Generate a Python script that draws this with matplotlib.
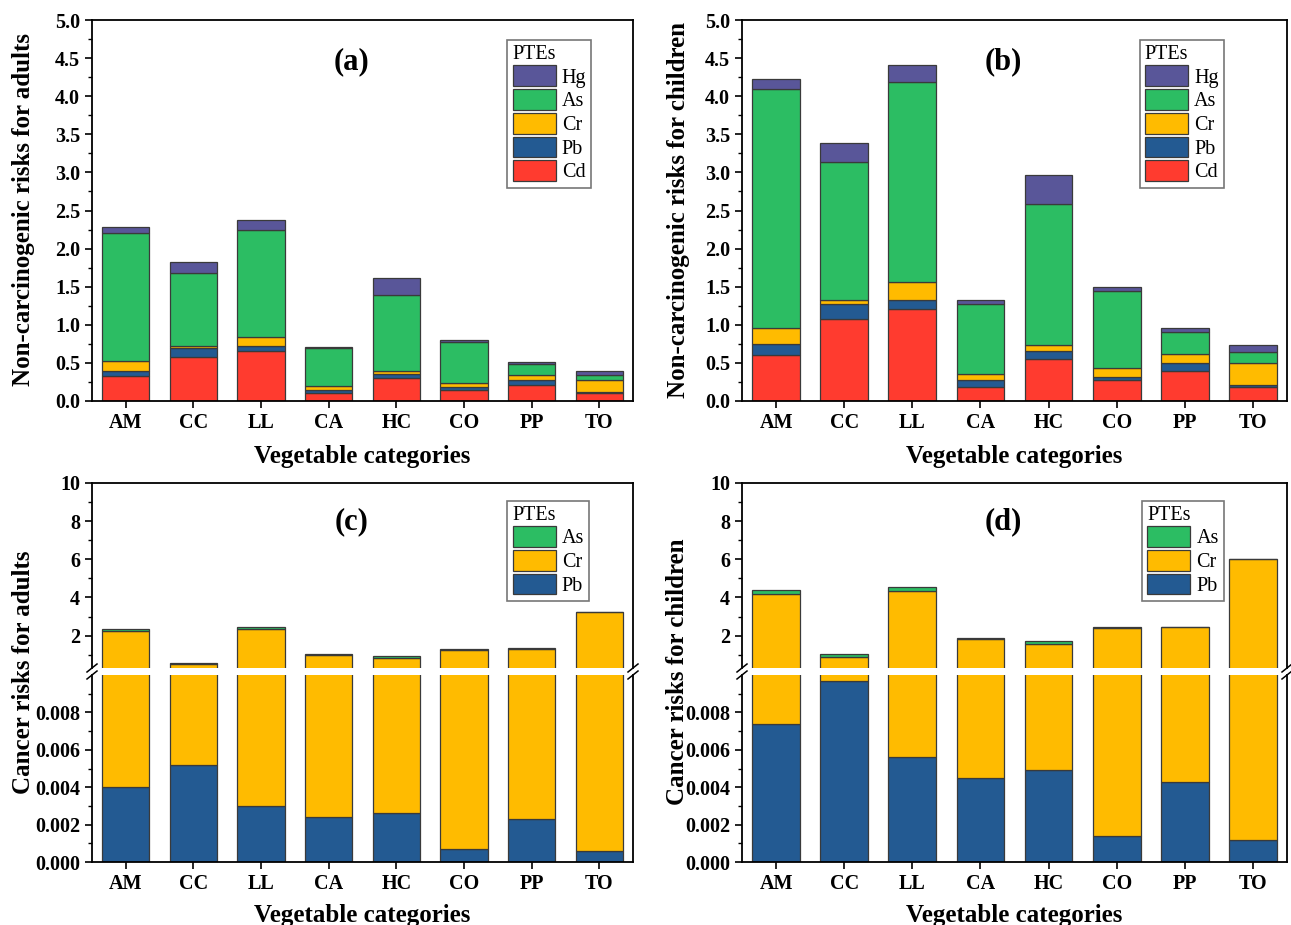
import matplotlib
matplotlib.use("Agg")
import matplotlib.pyplot as plt
from matplotlib.ticker import MultipleLocator, FormatStrFormatter, FixedLocator
from matplotlib.patches import Patch
from matplotlib.lines import Line2D
import numpy as np

# ---------------- data ----------------
categories = ["AM", "CC", "LL", "CA", "HC", "CO", "PP", "TO"]

# Non-carcinogenic risks (hazard quotients) per element, adults
adult_nc_cd = [0.33, 0.58, 0.65, 0.10, 0.30, 0.15, 0.21, 0.10]
adult_nc_pb = [0.07, 0.12, 0.07, 0.05, 0.05, 0.03, 0.06, 0.02]
adult_nc_cr = [0.12, 0.02, 0.12, 0.05, 0.04, 0.06, 0.07, 0.16]
adult_nc_as = [1.69, 0.96, 1.41, 0.49, 1.00, 0.54, 0.15, 0.06]
adult_nc_hg = [0.07, 0.14, 0.12, 0.02, 0.22, 0.02, 0.02, 0.06]

# Non-carcinogenic risks per element, children
child_nc_cd = [0.60, 1.07, 1.21, 0.18, 0.55, 0.28, 0.40, 0.18]
child_nc_pb = [0.15, 0.20, 0.12, 0.10, 0.10, 0.03, 0.10, 0.03]
child_nc_cr = [0.21, 0.05, 0.23, 0.08, 0.08, 0.12, 0.12, 0.29]
child_nc_as = [3.14, 1.82, 2.63, 0.91, 1.85, 1.02, 0.28, 0.14]
child_nc_hg = [0.12, 0.25, 0.22, 0.05, 0.39, 0.04, 0.06, 0.10]

# Cancer risks per element, adults
adult_cr_pb = [0.0040, 0.0052, 0.0030, 0.0024, 0.0026, 0.0007, 0.0023, 0.0006]
adult_cr_cr = [2.21, 0.49, 2.35, 0.97, 0.83, 1.25, 1.30, 3.22]
adult_cr_as = [0.14, 0.07, 0.11, 0.04, 0.10, 0.06, 0.03, 0.01]

# Cancer risks per element, children
child_cr_pb = [0.0074, 0.0097, 0.0056, 0.0045, 0.0049, 0.0014, 0.0043, 0.0012]
child_cr_cr = [4.16, 0.89, 4.34, 1.79, 1.57, 2.37, 2.43, 6.00]
child_cr_as = [0.23, 0.14, 0.22, 0.08, 0.13, 0.06, 0.03, 0.01]

# ---------------- style ----------------
COL = {"Cd": "#FF3B2F", "Pb": "#235A92", "Cr": "#FFBB00",
       "As": "#2CBD63", "Hg": "#595699"}
EDGE = "#3a3a3a"
SERIF = ["Liberation Serif", "DejaVu Serif"]
plt.rcParams["font.family"] = SERIF
plt.rcParams["font.weight"] = "bold"

W, H = 1291, 925
fig = plt.figure(figsize=(W / 100, H / 100), dpi=100)


def add_ax(l, t, r, b):
    return fig.add_axes([l / W, 1 - b / H, (r - l) / W, (b - t) / H])


x = np.arange(1, len(categories) + 1)
BAR_W = 0.7
TICK_FS = 14.5
LABEL_FS = 18


def style_axis(ax):
    ax.set_xlim(0.5, 8.5)
    ax.tick_params(axis="both", which="major", direction="out", length=5,
                   width=1.2, labelsize=TICK_FS, top=False, right=False)
    ax.tick_params(axis="both", which="minor", direction="out", length=3,
                   width=1.0, top=False, right=False)
    for s in ax.spines.values():
        s.set_linewidth(1.3)
    for lab in ax.get_yticklabels() + ax.get_xticklabels():
        lab.set_fontweight("bold")


def stacked(ax, layers):
    bottom = np.zeros(len(categories))
    for name, vals in layers:
        v = np.asarray(vals, dtype=float)
        ax.bar(x, v, BAR_W, bottom=bottom, color=COL[name], edgecolor=EDGE,
               linewidth=0.9, zorder=2)
        bottom = bottom + v


def legend(ax, names, anchor):
    handles = [Patch(facecolor=COL[n], edgecolor=EDGE, linewidth=0.9) for n in names]
    lg = ax.legend(handles, names, title="PTEs", loc="upper left",
                   bbox_to_anchor=anchor, frameon=True, fancybox=False,
                   edgecolor="#555555", handlelength=2.15, handleheight=1.2,
                   handletextpad=0.3, labelspacing=0.08, borderpad=0.25,
                   borderaxespad=0.0, alignment="left",
                   prop={"family": SERIF, "weight": "normal", "size": 14.5},
                   title_fontproperties={"family": SERIF, "weight": "normal",
                                         "size": 14.5})
    lg.get_frame().set_linewidth(1.2)
    lg.set_zorder(5)
    return lg


def nc_panel(l, r, layers, letter, anchor, ylabel, ylab_x):
    ax = add_ax(l, 20, r, 401)
    stacked(ax, layers)
    ax.set_ylim(0, 5.0)
    ax.yaxis.set_major_locator(MultipleLocator(0.5))
    ax.yaxis.set_minor_locator(MultipleLocator(0.25))
    ax.yaxis.set_major_formatter(FormatStrFormatter("%.1f"))
    ax.set_xticks(x)
    ax.set_xticklabels(categories)
    style_axis(ax)
    ax.set_xlabel("Vegetable categories", fontsize=LABEL_FS, fontweight="bold",
                  labelpad=9)
    ax.text(0.48, 0.89, letter, transform=ax.transAxes, ha="center",
            va="center", fontsize=22, fontweight="bold")
    legend(ax, ["Hg", "As", "Cr", "Pb", "Cd"], anchor)
    fig.text(ylab_x / W, 1 - 210 / H, ylabel, rotation=90, ha="center",
             va="center", fontsize=LABEL_FS, fontweight="bold")
    return ax


def break_marks(xpix, y_top, y_bot):
    for yy in (y_top, y_bot):
        fig.add_artist(Line2D([(xpix - 5) / W, (xpix + 5) / W],
                              [1 - (yy + 4) / H, 1 - (yy - 4) / H],
                              color="black", linewidth=1.1))


def cr_panel(l, r, pb, cr, asv, letter, anchor, ylabel, ylab_x):
    top_t, top_b, low_t, low_b = 483, 668, 675, 862
    up = add_ax(l, top_t, r, top_b)
    lo = add_ax(l, low_t, r, low_b)
    layers = [("Pb", pb), ("Cr", cr), ("As", asv)]
    stacked(up, layers)
    stacked(lo, layers)

    up.set_ylim(0.3, 10)
    up.yaxis.set_major_locator(FixedLocator([2, 4, 6, 8, 10]))
    up.yaxis.set_minor_locator(FixedLocator([1, 3, 5, 7, 9]))
    up.yaxis.set_major_formatter(FormatStrFormatter("%d"))
    up.spines["bottom"].set_visible(False)
    up.set_xticks([])
    style_axis(up)
    up.tick_params(axis="x", which="both", bottom=False, labelbottom=False)

    lo.set_ylim(0, 0.010)
    lo.yaxis.set_major_locator(FixedLocator([0, 0.002, 0.004, 0.006, 0.008]))
    lo.yaxis.set_minor_locator(FixedLocator([0.001, 0.003, 0.005, 0.007, 0.009]))
    lo.yaxis.set_major_formatter(FormatStrFormatter("%.3f"))
    lo.spines["top"].set_visible(False)
    lo.set_xticks(x)
    lo.set_xticklabels(categories)
    style_axis(lo)
    lo.set_xlabel("Vegetable categories", fontsize=LABEL_FS, fontweight="bold",
                  labelpad=7)

    break_marks(l, top_b, low_t)
    break_marks(r, top_b, low_t)

    up.text(0.48, 0.79, letter, transform=up.transAxes, ha="center",
            va="center", fontsize=22, fontweight="bold")
    legend(up, ["As", "Cr", "Pb"], anchor)
    fig.text(ylab_x / W, 1 - 672 / H, ylabel, rotation=90, ha="center",
             va="center", fontsize=LABEL_FS, fontweight="bold")


nc_panel(92, 633,
         [("Cd", adult_nc_cd), ("Pb", adult_nc_pb), ("Cr", adult_nc_cr),
          ("As", adult_nc_as), ("Hg", adult_nc_hg)],
         "(a)", (0.768, 0.948), "Non-carcinogenic risks for adults", 24)
nc_panel(742, 1287,
         [("Cd", child_nc_cd), ("Pb", child_nc_pb), ("Cr", child_nc_cr),
          ("As", child_nc_as), ("Hg", child_nc_hg)],
         "(b)", (0.730, 0.948), "Non-carcinogenic risks for children", 678)

cr_panel(92, 633, adult_cr_pb, adult_cr_cr, adult_cr_as, "(c)",
         (0.768, 0.905), "Cancer risks for adults", 24)
cr_panel(742, 1287, child_cr_pb, child_cr_cr, child_cr_as, "(d)",
         (0.734, 0.905), "Cancer risks for children", 678)

fig.savefig("out.png", dpi=100)
